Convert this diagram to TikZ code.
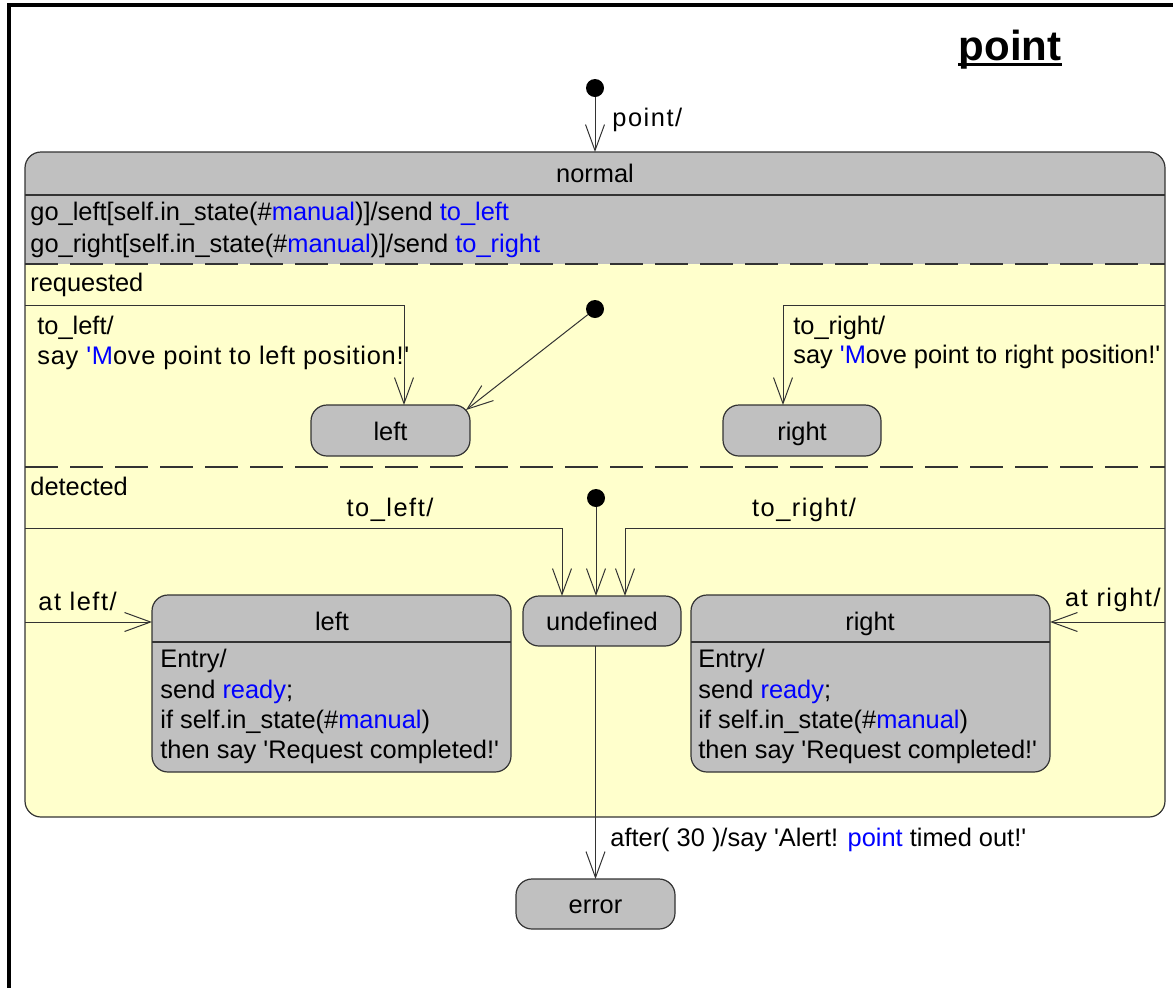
\documentclass[tikz,border=0pt]{standalone}
\usepackage{fontspec}
\usetikzlibrary{arrows.meta}
% Arial-metric family without TeX quote ligatures, so ' stays straight
\newfontfamily\arial{Liberation Sans}
\newfontfamily\arialsp[LetterSpace=6]{Liberation Sans}
\newfontfamily\arialsl[LetterSpace=3]{Liberation Sans}
\definecolor{stategray}{HTML}{C0C0C0}
\definecolor{regionyellow}{HTML}{FFFFCC}
\definecolor{kw}{HTML}{0000FF}
\definecolor{edge}{HTML}{333333}
\tikzset{
  statebox/.style={draw=edge, line width=0.6pt, fill=stategray, rounded corners=8pt,
                   inner sep=0pt, outer sep=0pt, text height=12pt, text depth=2.5pt},
  initdot/.style={circle, fill=black, minimum size=9pt, inner sep=0pt, outer sep=0pt},
  conn/.style={draw=edge, line width=0.5pt, -{Straight Barb[length=13pt,width=9.5pt]}},
  txt/.style={anchor=base west, inner sep=0pt},
  ctxt/.style={anchor=base, inner sep=0pt},
  sep/.style={draw=edge, line width=0.6pt},
  regionsep/.style={draw=edge, line width=0.6pt, dash pattern=on 16.5pt off 6pt},
}
\begin{document}
\begin{tikzpicture}[x=0.5pt, y=-0.5pt, font=\arial\fontsize{12.7}{15.5}\selectfont]
\useasboundingbox (0,0) rectangle (1173,987);
\clip (0,0) rectangle (1173,987);

% diagram frame
\draw[line width=2pt] (9,5) rectangle (1200,1010);

% diagram title
\node[ctxt, font=\arial\fontsize{21}{25}\selectfont\bfseries] (title) at (1010,60) {point};
\draw[line width=1.6pt] ([yshift=-2.2pt]title.base west) -- ([yshift=-2.2pt]title.base east);

% top-level initial state
\node[initdot] (init0) at (595,88) {};

% composite state "normal": grey header and internal transitions, yellow regions
\node[draw=edge, line width=0.6pt, fill=regionyellow, rounded corners=8pt,
      inner sep=0pt, outer sep=0pt, minimum width=570pt, minimum height=332.5pt,
      path picture={\fill[stategray, sharp corners] (path picture bounding box.north west)
        rectangle ([yshift=-56pt]path picture bounding box.north east);}]
  (normal) at (595,484.5) {};
\node[ctxt] (normalname) at (595,182) {normal};
\draw[sep] (25,195) -- (1165,195);
\node[txt] (golefttr) at (30,220) {go\_left[self.in\_state(\#\textcolor{kw}{manual})]/send \textcolor{kw}{to\_left}};
\node[txt] (gorighttr) at (30,252) {go\_right[self.in\_state(\#\textcolor{kw}{manual})]/send \textcolor{kw}{to\_right}};
\draw[regionsep] (25,264) -- (1165,264);
\draw[regionsep] (25,467) -- (1165,467);

\draw[conn] (init0) -- (init0 |- normal.north);
\node[txt] (pointlab) at (612,126) {\arialsp point/};

% region "requested"
\node[txt] (requested) at (30,291) {requested};
\node[initdot] (initR) at (595,309) {};
\node[statebox, minimum width=79.5pt, minimum height=25.5pt] (rleft) at (390.5,430.5) {left};
\node[statebox, minimum width=79pt, minimum height=25.5pt] (rright) at (802,430.5) {right};
\coordinate (rlsrc) at (25,305);
\coordinate (rrsrc) at (1165,305);
\draw[conn] (initR) -- ([xshift=-2pt,yshift=-2.5pt]rleft.north east);
\draw[conn] (rlsrc) -| ([xshift=6.75pt]rleft.north);
\draw[conn] (rrsrc) -| ([xshift=-9.5pt]rright.north);
\node[txt] (rltrig) at (37,334) {to\_left/};
\node[txt] (rlsay) at (37,364) {\arialsl say \textcolor{kw}{'M}ove point to left position!'};
\node[txt] (rrtrig) at (793,334) {to\_right/};
\node[txt] (rrsay) at (793,363) {say \textcolor{kw}{'M}ove point to right position!'};

% region "detected"
\node[txt] (detected) at (30,495) {detected};
\node[initdot] (initD) at (596,498) {};
\node[statebox, minimum width=79pt, minimum height=25pt] (undef) at (602,621) {undefined};
\node[statebox, minimum width=179.5pt, minimum height=88.5pt] (dleft) at (331.5,683.5) {};
\node[statebox, minimum width=179.5pt, minimum height=88.5pt] (dright) at (870.5,683.5) {};
\node[ctxt] (dlefttitle) at (332,630) {left};
\node[ctxt] (drighttitle) at (870,630) {right};
\draw[sep] (152,642) -- (511,642);
\draw[sep] (691,642) -- (1050,642);
\node[txt] (dl1) at (160,667) {Entry/};
\node[txt] (dl2) at (160,698) {send \textcolor{kw}{ready};};
\node[txt] (dl3) at (160,728) {if self.in\_state(\#\textcolor{kw}{manual})};
\node[txt] (dl4) at (160,758) {then say 'Request completed!'};
\node[txt] (dr1) at (698,667) {Entry/};
\node[txt] (dr2) at (698,698) {send \textcolor{kw}{ready};};
\node[txt] (dr3) at (698,728) {if self.in\_state(\#\textcolor{kw}{manual})};
\node[txt] (dr4) at (698,758) {then say 'Request completed!'};

\coordinate (dlsrc) at (25,528);
\coordinate (drsrc) at (1165,528);
\coordinate (alsrc) at (25,622);
\coordinate (arsrc) at (1165,622);
\draw[conn] (initD) -- (initD |- undef.north);
\draw[conn] (dlsrc) -| ([xshift=-20pt]undef.north);
\draw[conn] (drsrc) -| ([xshift=11.5pt]undef.north);
\draw[conn] (alsrc) -- (alsrc -| dleft.west);
\draw[conn] (arsrc) -- (arsrc -| dright.east);
\node[ctxt] (dltrig) at (390,516) {\arialsp to\_left/};
\node[ctxt] (drtrig) at (804,516) {\arialsp to\_right/};
\node[txt] (altrig) at (38,610) {\arialsp at left/};
\node[anchor=base east, inner sep=0pt] (artrig) at (1161,606) {\arialsp at right/};

% error state
\node[statebox, minimum width=79.5pt, minimum height=25pt] (error) at (595.5,904) {error};
\draw[conn] (undef.south -| error.north) -- (error.north);
\node[txt] (timeout) at (610,846) {after( 30 )/say 'Alert! \textcolor{kw}{point} timed out!'};
\end{tikzpicture}
\end{document}
